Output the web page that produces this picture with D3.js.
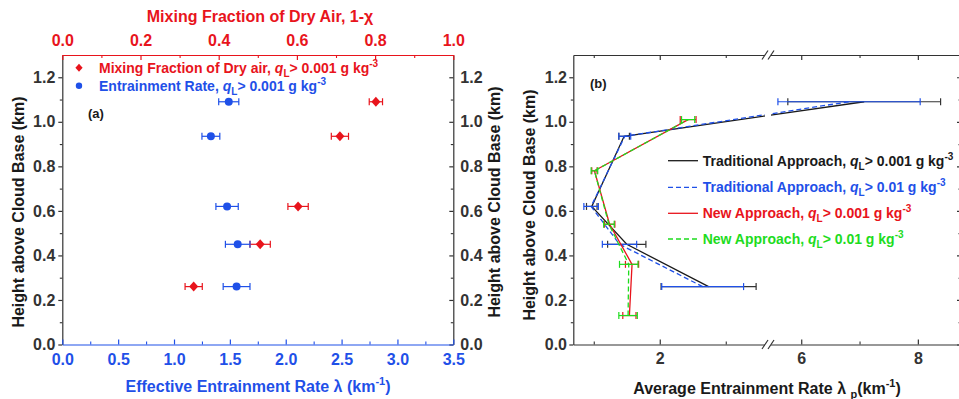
<!DOCTYPE html>
<html>
<head>
<meta charset="utf-8">
<script src="https://cdn.jsdelivr.net/npm/d3@7"></script>
<style>
  body { margin: 0; background: #fff; }
  svg text { font-family: Arial, "Liberation Sans", sans-serif; font-weight: bold; }
</style>
</head>
<body>
<div id="chart"></div>
<script>
// ---- data, panel (a) ----
const heightsA = [0.26, 0.45, 0.62, 0.935, 1.09];
const entrainRate = [1.56, 1.57, 1.475, 1.33, 1.49];
const entrainErr = [0.12, 0.11, 0.10, 0.08, 0.09];
const mixFraction = [0.336, 0.506, 0.603, 0.71, 0.802];
const mixErr = [0.022, 0.026, 0.026, 0.022, 0.017];

// ---- data, panel (b) ----
const heightsTrad = [0.26, 0.45, 0.62, 0.935, 1.09];
const tradLow = [2.74, 1.50, 0.97, 1.46, 7.08];
const tradLowErr = [0.72, 0.29, 0.08, 0.08, 1.31];
const tradHigh = [2.65, 1.39, 0.96, 1.47, 6.82];
const tradHighErr = [0.62, 0.26, 0.11, 0.09, 1.22];
const heightsNew = [0.13, 0.36, 0.54, 0.78, 1.01];
const newLow = [1.54, 1.58, 1.24, 1.01, 2.43];
const newLowErr = [0.10, 0.10, 0.08, 0.04, 0.12];
const newHigh = [1.52, 1.53, 1.23, 1.01, 2.43];
const newHighErr = [0.14, 0.14, 0.08, 0.05, 0.10];

// ---- ticks ----
const heightTicks = [0, 0.2, 0.4, 0.6, 0.8, 1.0, 1.2];
const heightMinor = [0.1, 0.3, 0.5, 0.7, 0.9, 1.1];
const rateTicksA = [0, 0.5, 1.0, 1.5, 2.0, 2.5, 3.0, 3.5];
const rateMinorA = [0.25, 0.75, 1.25, 1.75, 2.25, 2.75, 3.25];
const mixTicks = [0, 0.2, 0.4, 0.6, 0.8, 1.0];
const mixMinor = [0.1, 0.3, 0.5, 0.7, 0.9];
const rateTicksB = [2, 6, 8];
const rateMinorB = [1, 3, 7];

const RED = '#e8141c', BLUE = '#1f50e8', GREEN = '#1edc1e', BLACK = '#1a1a1a', AXIS = '#333';
const FONT = 'Arial, "Liberation Sans", sans-serif';

const svg = d3.select('#chart').append('svg')
  .attr('width', 959)
  .attr('height', 399);

// plot boxes
const boxA = { left: 62.3, right: 453.3, top: 55, bottom: 344.5 };
const boxB = { left: 573.3, right: 961, top: 55, bottom: 344.5, brk: 768 };

// scales
const yA = d3.scaleLinear().domain([0, 1.3]).range([boxA.bottom, boxA.top]);
const xA = d3.scaleLinear().domain([0, 3.5]).range([boxA.left, boxA.right]);
const xMix = d3.scaleLinear().domain([0, 1]).range([boxA.left, boxA.right]);
const yB = d3.scaleLinear().domain([0, 1.3]).range([boxB.bottom, boxB.top]);
// broken axis: two linear pieces meeting at the break
const xB = d3.scaleLinear()
  .domain([0.69, 3.64, 5.43, 8.74])
  .range([boxB.left, boxB.brk, boxB.brk, boxB.right]);

function drawAxis(axis, tx, ty, color) {
  const g = svg.append('g')
    .attr('transform', `translate(${tx},${ty})`)
    .call(axis)
    .attr('font-family', FONT)
    .attr('font-size', 16);
  g.select('.domain').attr('stroke', color).attr('stroke-width', 1.2);
  g.selectAll('.tick line').attr('stroke', color).attr('stroke-width', 1.2);
  g.selectAll('.tick text').attr('fill', color).attr('font-weight', 'bold');
  return g;
}
function drawMinor(axis, tx, ty, color) {
  const g = svg.append('g')
    .attr('transform', `translate(${tx},${ty})`)
    .call(axis.tickFormat(''));
  g.select('.domain').remove();
  g.selectAll('.tick line').attr('stroke', color).attr('stroke-width', 1.1);
}

const f1 = d3.format('.1f');

// ---- panel (a) axes ----
drawAxis(d3.axisLeft(yA).tickValues(heightTicks).tickSize(4).tickPadding(3).tickSizeOuter(0).tickFormat(f1), boxA.left, 0, AXIS);
drawMinor(d3.axisLeft(yA).tickValues(heightMinor).tickSize(2.5), boxA.left, 0, AXIS);
drawAxis(d3.axisRight(yA).tickValues(heightTicks).tickSize(-4).tickPadding(7).tickSizeOuter(0).tickFormat(f1), boxA.right, 0, AXIS);
drawMinor(d3.axisRight(yA).tickValues(heightMinor).tickSize(-2.5), boxA.right, 0, AXIS);
drawAxis(d3.axisBottom(xA).tickValues(rateTicksA).tickSize(-5).tickPadding(9).tickSizeOuter(0).tickFormat(f1), 0, boxA.bottom, BLUE);
drawMinor(d3.axisBottom(xA).tickValues(rateMinorA).tickSize(-3), 0, boxA.bottom, BLUE);
drawAxis(d3.axisTop(xMix).tickValues(mixTicks).tickSize(-5).tickPadding(9).tickSizeOuter(0).tickFormat(f1), 0, boxA.top, RED);
drawMinor(d3.axisTop(xMix).tickValues(mixMinor).tickSize(-3), 0, boxA.top, RED);

// ---- panel (b) axes ----
drawAxis(d3.axisLeft(yB).tickValues(heightTicks).tickSize(4).tickPadding(2.3).tickSizeOuter(0).tickFormat(f1), boxB.left, 0, AXIS);
drawMinor(d3.axisLeft(yB).tickValues(heightMinor).tickSize(2.5), boxB.left, 0, AXIS);
drawAxis(d3.axisRight(yB).tickValues(heightTicks).tickSize(-4).tickSizeOuter(0).tickFormat(''), boxB.right, 0, AXIS);
drawMinor(d3.axisRight(yB).tickValues(heightMinor).tickSize(-2.5), boxB.right, 0, AXIS);
drawAxis(d3.axisBottom(xB).tickValues(rateTicksB).tickSize(-5).tickPadding(8).tickSizeOuter(0).tickFormat(d3.format('d')), 0, boxB.bottom, AXIS);
drawMinor(d3.axisBottom(xB).tickValues(rateMinorB).tickSize(-3), 0, boxB.bottom, AXIS);
drawAxis(d3.axisTop(xB).tickValues(rateTicksB).tickSize(-5).tickSizeOuter(0).tickFormat(''), 0, boxB.top, AXIS);
drawMinor(d3.axisTop(xB).tickValues(rateMinorB).tickSize(-3), 0, boxB.top, AXIS);

// horizontal error bars with end caps
function errorBars(xs, errs, hs, x, y, color, cap) {
  const c = cap || 3.5;
  const g = svg.append('g').attr('stroke', color).attr('stroke-width', 1.2);
  xs.forEach((v, i) => {
    const x0 = x(v - errs[i]), x1 = x(v + errs[i]), yy = y(hs[i]);
    g.append('line').attr('x1', x0).attr('x2', x1).attr('y1', yy).attr('y2', yy);
    g.append('line').attr('x1', x0).attr('x2', x0).attr('y1', yy - c).attr('y2', yy + c);
    g.append('line').attr('x1', x1).attr('x2', x1).attr('y1', yy - c).attr('y2', yy + c);
  });
}

// ---- panel (a) data ----
errorBars(mixFraction, mixErr, heightsA, xMix, yA, RED);
errorBars(entrainRate, entrainErr, heightsA, xA, yA, BLUE);

const diamond = (r) => `M0,${-r}L${r * 0.9},0L0,${r}L${-r * 0.9},0Z`;

svg.append('g').selectAll('path')
  .data(mixFraction)
  .join('path')
  .attr('d', diamond(5))
  .attr('fill', RED)
  .attr('transform', (d, i) => `translate(${xMix(d)},${yA(heightsA[i])})`);

svg.append('g').selectAll('circle')
  .data(entrainRate)
  .join('circle')
  .attr('cx', (d) => xA(d))
  .attr('cy', (d, i) => yA(heightsA[i]))
  .attr('r', 4)
  .attr('fill', BLUE);

// ---- panel (b) data ----
function profile(xs, hs, color, dash) {
  const pts = xs.map((v, i) => [xB(v), yB(hs[i])]);
  svg.append('path')
    .attr('d', d3.line()(pts))
    .attr('fill', 'none')
    .attr('stroke', color)
    .attr('stroke-width', 1.3)
    .attr('stroke-dasharray', dash ? '5,3' : null);
}

profile(tradLow, heightsTrad, BLACK, false);
errorBars(tradLow, tradLowErr, heightsTrad, xB, yB, '#333');
profile(tradHigh, heightsTrad, BLUE, true);
errorBars(tradHigh, tradHighErr, heightsTrad, xB, yB, BLUE);
profile(newLow, heightsNew, RED, false);
errorBars(newLow, newLowErr, heightsNew, xB, yB, RED);
profile(newHigh, heightsNew, GREEN, true);
errorBars(newHigh, newHighErr, heightsNew, xB, yB, GREEN);

// axis break: white gap + double slashes on top and bottom
svg.append('rect')
  .attr('x', boxB.brk - 3)
  .attr('y', boxB.top - 6)
  .attr('width', 6)
  .attr('height', boxB.bottom - boxB.top + 12)
  .attr('fill', '#fff');
[boxB.top, boxB.bottom].forEach((yy) => {
  [-3, 3].forEach((dx) => {
    svg.append('line')
      .attr('x1', boxB.brk + dx - 3).attr('y1', yy + 4.5)
      .attr('x2', boxB.brk + dx + 3).attr('y2', yy - 4.5)
      .attr('stroke', AXIS).attr('stroke-width', 1.2);
  });
});

// ---- text helpers ----
function qLabel(text, prefix, threshold) {
  text.append('tspan').text(prefix);
  text.append('tspan').attr('font-style', 'italic').text('q');
  text.append('tspan').attr('font-size', '10px').attr('dy', 4).text('L');
  text.append('tspan').attr('dy', -4).text(`> ${threshold} g kg`);
  text.append('tspan').attr('font-size', '10px').attr('dy', -6).text('-3');
}

// ---- panel (a) legend ----
svg.append('path').attr('d', diamond(4)).attr('fill', RED).attr('transform', 'translate(79,67.7)');
svg.append('circle').attr('cx', 79).attr('cy', 85.7).attr('r', 3.2).attr('fill', BLUE);
qLabel(svg.append('text').attr('x', 99).attr('y', 72.5).attr('font-size', 14).attr('fill', RED),
  'Mixing Fraction of Dry air, ', '0.001');
qLabel(svg.append('text').attr('x', 99).attr('y', 90.5).attr('font-size', 14).attr('fill', BLUE),
  'Entrainment Rate, ', '0.001');
svg.append('text').attr('x', 88).attr('y', 118).attr('font-size', 13).attr('fill', BLACK).text('(a)');

// ---- panel (b) legend ----
const legendB = [
  { label: 'Traditional Approach, ', thr: '0.001', color: BLACK, dash: false },
  { label: 'Traditional Approach, ', thr: '0.01', color: BLUE, dash: true },
  { label: 'New Approach, ', thr: '0.001', color: RED, dash: false },
  { label: 'New Approach, ', thr: '0.01', color: GREEN, dash: true },
];
const legendY = [160.7, 187.3, 213.3, 239];
legendB.forEach((d, i) => {
  svg.append('line')
    .attr('x1', 668).attr('x2', 698)
    .attr('y1', legendY[i]).attr('y2', legendY[i])
    .attr('stroke', d.color).attr('stroke-width', 1.3)
    .attr('stroke-dasharray', d.dash ? '5,3' : null);
  qLabel(svg.append('text').attr('x', 702.7).attr('y', legendY[i] + 5)
    .attr('font-size', 14).attr('fill', d.color), d.label, d.thr);
});
svg.append('text').attr('x', 590).attr('y', 88).attr('font-size', 13).attr('fill', BLACK).text('(b)');

// ---- axis titles ----
svg.append('text')
  .attr('x', 260).attr('y', 22)
  .attr('text-anchor', 'middle').attr('font-size', 16).attr('fill', RED)
  .text('Mixing Fraction of Dry Air, 1-\u03c7');

const bottomA = svg.append('text')
  .attr('x', 258).attr('y', 392)
  .attr('text-anchor', 'middle').attr('font-size', 16).attr('fill', BLUE);
bottomA.append('tspan').text('Effective Entrainment Rate \u03bb (km');
bottomA.append('tspan').attr('font-size', '11px').attr('dy', -7).text('-1');
bottomA.append('tspan').attr('dy', 7).text(')');

const bottomB = svg.append('text')
  .attr('x', 767).attr('y', 394)
  .attr('text-anchor', 'middle').attr('font-size', 16).attr('fill', BLACK);
bottomB.append('tspan').text('Average Entrainment Rate \u03bb ');
bottomB.append('tspan').attr('font-size', '11px').attr('dy', 4).text('p');
bottomB.append('tspan').attr('dy', -4).text('(km');
bottomB.append('tspan').attr('font-size', '11px').attr('dy', -7).text('-1');
bottomB.append('tspan').attr('dy', 7).text(')');

const yTitles = [
  { x: 23.5, y: 212 },
  { x: 500, y: 202 },
  { x: 535, y: 205 },
];
yTitles.forEach((d) => {
  svg.append('text')
    .attr('transform', `translate(${d.x},${d.y}) rotate(-90)`)
    .attr('text-anchor', 'middle')
    .attr('font-size', 16)
    .attr('fill', BLACK)
    .text('Height above Cloud Base (km)');
});
</script>
</body>
</html>
